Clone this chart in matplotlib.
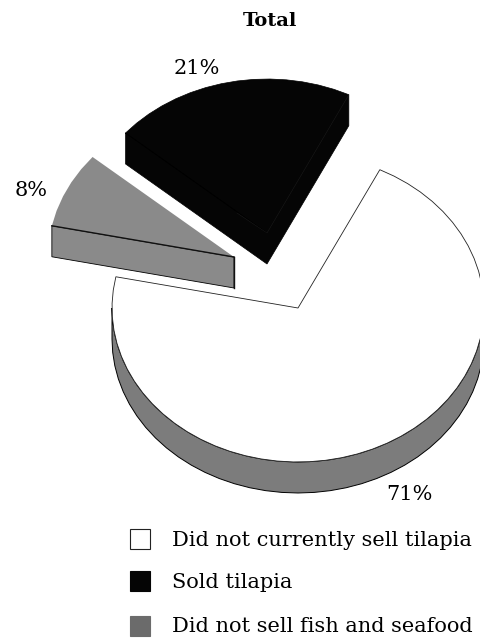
import numpy as np
import matplotlib
matplotlib.use("Agg")
import matplotlib.pyplot as plt
from matplotlib.patches import Polygon, Rectangle

labels = ["Did not currently sell tilapia", "Sold tilapia", "Did not sell fish and seafood"]
values = [71, 21, 8]
pct_labels = ["71%", "21%", "8%"]
top_colors = ["#ffffff", "#050505", "#8a8a8a"]
side_colors = ["#7c7c7c", "#050505", "#8a8a8a"]
legend_colors = ["#ffffff", "#050505", "#6b6b6b"]

plt.rcParams["font.family"] = ["DejaVu Serif"]

fig = plt.figure(figsize=(4.8, 6.4), dpi=100)
ax = fig.add_axes([0, 0, 1, 1])
ax.set_xlim(0, 480)
ax.set_ylim(640, 0)
ax.axis("off")

rx, ry, depth = 186, 154, 31
start = 63.9
# tip of each slice, exploded by hand
tips = [(298, 308), (267, 233), (234, 257)]
text_size = 15


def arc(tip, a0, a1, step=5):
    n = max(int(abs(a1 - a0) / step), 2)
    t = np.radians(np.linspace(a0, a1, n + 1))
    return np.column_stack([tip[0] + rx * np.cos(t), tip[1] - ry * np.sin(t)])


# white slice runs clockwise from start, then the other two follow it
spans = [v / sum(values) * 360 for v in values]
a_white = (start, start - spans[0])
a_gray = (start - spans[0], start - spans[0] - spans[2])
a_black = (a_gray[1], a_gray[1] - spans[1])

# gray slice
tip = tips[2]
edge = arc(tip, a_gray[0], a_gray[1])
low = np.array([tip[0], tip[1] + depth])
ax.add_patch(Polygon([tip, low, edge[0] + [0, depth], edge[0]], fc=side_colors[2], ec="black", lw=0.6))
ax.add_patch(Polygon(np.vstack([[tip], edge]), fc=top_colors[2], ec="none"))
ax.plot([tip[0], edge[0][0]], [tip[1], edge[0][1]], color="#111111", lw=1)
ax.plot([tip[0], tip[0]], [tip[1], tip[1] + depth], color="#111111", lw=1)

# black slice
tip = tips[1]
edge = arc(tip, a_black[0], a_black[1])
pts = np.vstack([[tip], edge, edge[-1] + [0, depth], [[tip[0], tip[1] + depth]], edge[0] + [0, depth], edge[0]])
ax.add_patch(Polygon(pts, fc=top_colors[1], ec="black", lw=0.5))
ax.plot([edge[-1][0], tip[0], tip[0] - 30], [edge[-1][1], tip[1], tip[1] - 20], color="#1c1c1c", lw=0.35)

# white slice, side wall first
tip = tips[0]
low_arc = arc(tip, 360, 180)
side = np.vstack([low_arc, (low_arc + [0, depth])[::-1]])
ax.add_patch(Polygon(side, fc=side_colors[0], ec="black", lw=0.7))
edge = arc(tip, a_white[0], a_white[1])
ax.add_patch(Polygon(np.vstack([[tip], edge]), fc=top_colors[0], ec="#222222", lw=0.6))

ax.text(270, 21, "Total", ha="center", va="center", fontsize=14, fontweight="bold")
ax.text(197, 69, pct_labels[1], ha="center", va="center", fontsize=text_size)
ax.text(31, 191, pct_labels[2], ha="center", va="center", fontsize=text_size)
ax.text(409, 495, pct_labels[0], ha="center", va="center", fontsize=text_size)

legend_y = [539, 581, 626]
for name, color, y in zip(labels, legend_colors, legend_y):
    ax.add_patch(Rectangle((130, y - 10), 20, 20, fc=color, ec="#222222" if color == "#ffffff" else color, lw=0.8))
    ax.text(172, y + 1, name, ha="left", va="center", fontsize=text_size)

fig.savefig("out.png", dpi=100)
